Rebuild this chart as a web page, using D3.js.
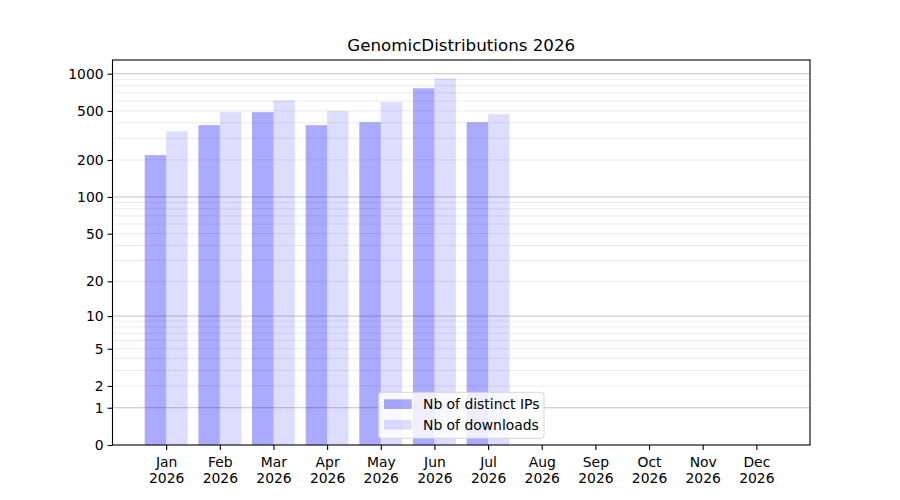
<!DOCTYPE html>
<html>
<head>
<meta charset="utf-8">
<script src="https://cdn.jsdelivr.net/npm/d3@7"></script>
<style>
  html, body { margin: 0; padding: 0; background: #fff; }
  svg { display: block; }
  text { font-family: "DejaVu Sans", sans-serif; fill: #000; }
</style>
</head>
<body>
<svg id="chart" width="900" height="500"></svg>
<script>
const months = ["Jan","Feb","Mar","Apr","May","Jun","Jul","Aug","Sep","Oct","Nov","Dec"];
const year = "2026";
const distinctIPs = [219, 383, 488, 383, 405, 762, 405, null, null, null, null, null];
const downloads   = [342, 488, 609, 497, 587, 917, 470, null, null, null, null, null];
const yTickValues = [0, 1, 2, 5, 10, 20, 50, 100, 200, 500, 1000];
const yMajorGrid  = [1, 10, 100, 1000];
const seriesNames = ["Nb of distinct IPs", "Nb of downloads"];
const title = "GenomicDistributions 2026";

(function () {
const mLeft = 112.5, mRight = 810, mTop = 60, mBottom = 445;
const fs = 13.9;

const svg = d3.select("#chart");

const maxVal = d3.max(downloads.concat(distinctIPs).filter(v => v != null));
const yMax = Math.expm1(1.05 * Math.log1p(maxVal));

const x = d3.scaleLinear().domain([-1, 12]).range([mLeft, mRight]);
const y = d3.scaleSymlog().constant(1).domain([0, yMax]).range([mBottom, mTop]);

// minor gridlines
const minor = [];
[1, 10, 100].forEach(d => { for (let k = 2; k <= 9; k++) minor.push(k * d); });
const g = svg.append("g");
g.selectAll("line.minor").data(minor.filter(v => v < yMax)).join("line")
  .attr("class", "minor")
  .attr("x1", mLeft).attr("x2", mRight)
  .attr("y1", d => y(d)).attr("y2", d => y(d))
  .attr("stroke", "#ebebeb").attr("stroke-width", 1);
g.selectAll("line.major").data(yMajorGrid).join("line")
  .attr("class", "major")
  .attr("x1", mLeft).attr("x2", mRight)
  .attr("y1", d => y(d)).attr("y2", d => y(d))
  .attr("stroke", "#c4c4c4").attr("stroke-width", 1);

// bars
const bw = 0.4;
const bars = svg.append("g");
bars.selectAll("rect.ip").data(distinctIPs.map((v, i) => ({v, i})).filter(d => d.v != null)).join("rect")
  .attr("class", "ip")
  .attr("x", d => x(d.i - bw)).attr("width", d => x(d.i) - x(d.i - bw))
  .attr("y", d => y(d.v)).attr("height", d => y(0) - y(d.v))
  .attr("fill", "blue").attr("fill-opacity", 1/3);
bars.selectAll("rect.dl").data(downloads.map((v, i) => ({v, i})).filter(d => d.v != null)).join("rect")
  .attr("class", "dl")
  .attr("x", d => x(d.i)).attr("width", d => x(d.i + bw) - x(d.i))
  .attr("y", d => y(d.v)).attr("height", d => y(0) - y(d.v))
  .attr("fill", "blue").attr("fill-opacity", 0.133);

// axes
const yAxis = d3.axisLeft(y).tickValues(yTickValues).tickFormat(d3.format("d")).tickSize(4.9).tickPadding(4);
const ya = svg.append("g").attr("transform", `translate(${mLeft},0)`).call(yAxis);
ya.select(".domain").remove();
ya.selectAll(".tick line").attr("stroke", "#000").attr("stroke-width", 1.1);
ya.selectAll(".tick text").attr("font-size", fs).attr("font-family", "DejaVu Sans").attr("fill", "#000");

const xAxis = d3.axisBottom(x).tickValues(d3.range(12)).tickFormat(() => "").tickSize(4.9);
const xa = svg.append("g").attr("transform", `translate(0,${mBottom})`).call(xAxis);
xa.select(".domain").remove();
xa.selectAll(".tick line").attr("stroke", "#000").attr("stroke-width", 1.1);
xa.selectAll(".tick").each(function(d) {
  const t = d3.select(this).append("text")
    .attr("text-anchor", "middle").attr("font-size", fs).attr("fill", "#000")
    .attr("font-family", "DejaVu Sans");
  t.append("tspan").attr("x", 0).attr("y", 21.7).text(months[d]);
  t.append("tspan").attr("x", 0).attr("y", 38).text(year);
});

// frame
svg.append("rect").attr("x", mLeft).attr("y", mTop)
  .attr("width", mRight - mLeft).attr("height", mBottom - mTop)
  .attr("fill", "none").attr("stroke", "#000").attr("stroke-width", 1.1);

// title
svg.append("text").attr("x", (mLeft + mRight) / 2).attr("y", 50.7)
  .attr("text-anchor", "middle").attr("font-size", 16.7).text(title);

// legend
const lg = svg.append("g");
lg.append("rect").attr("x", 378.5).attr("y", 392.3).attr("width", 165.5).attr("height", 46)
  .attr("rx", 2.8).attr("fill", "#fff").attr("fill-opacity", 0.8)
  .attr("stroke", "#cccccc").attr("stroke-opacity", 0.8).attr("stroke-width", 1);
const opac = [1/3, 0.133];
seriesNames.forEach((name, i) => {
  const yy = 399.3 + i * 20.6;
  lg.append("rect").attr("x", 384).attr("y", yy).attr("width", 27.8).attr("height", 9.7)
    .attr("fill", "blue").attr("fill-opacity", opac[i]);
  lg.append("text").attr("x", 423).attr("y", yy + 9.6).attr("font-size", fs).text(name);
});
})();
</script>
</body>
</html>
